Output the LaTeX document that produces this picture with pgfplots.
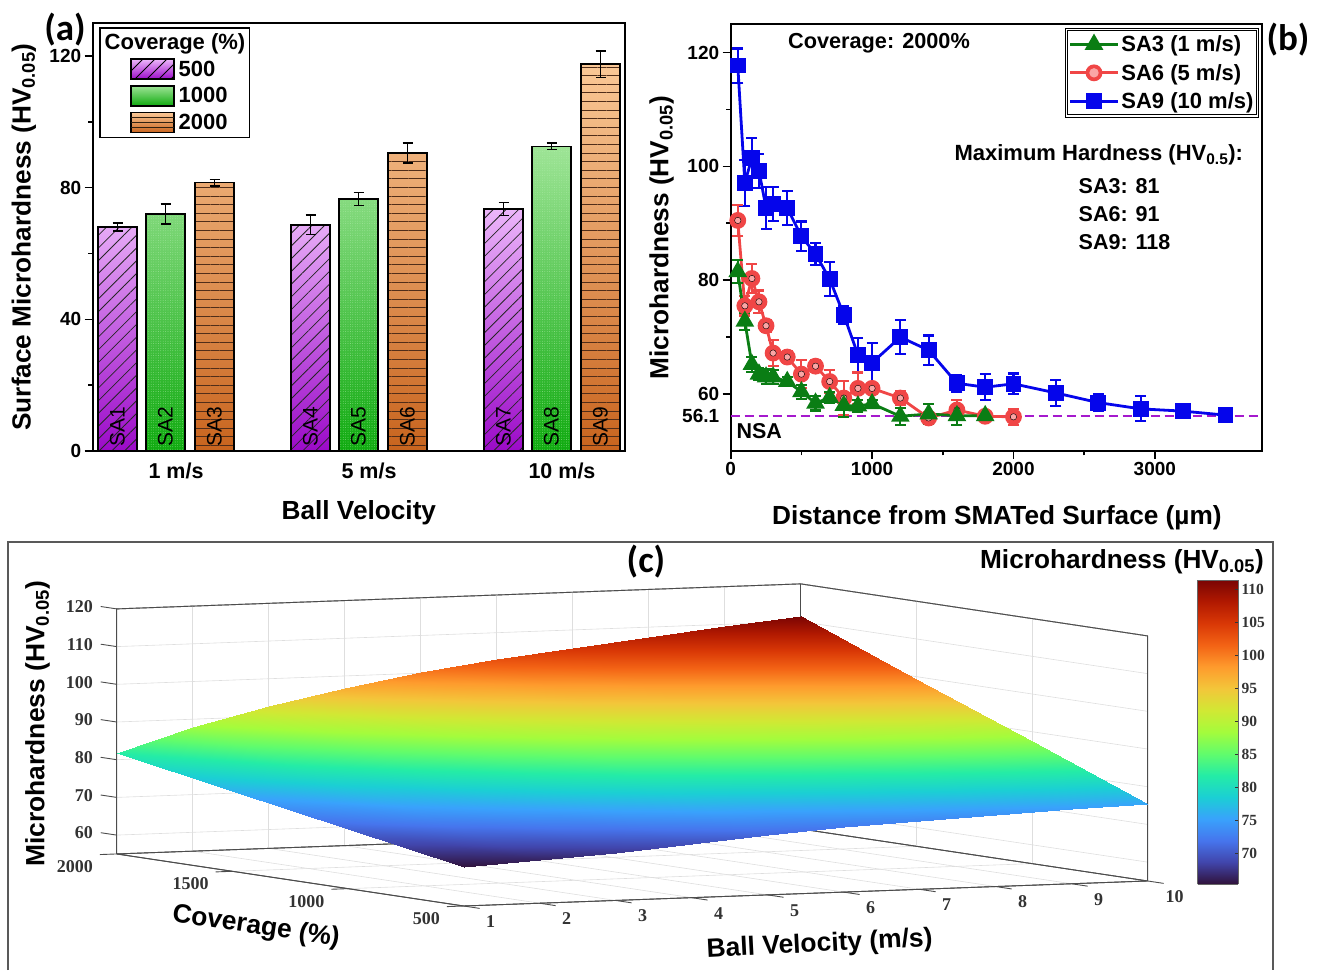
\documentclass[border=0pt]{standalone}
\usepackage{fontspec}
\setmainfont{Liberation Sans}
\newfontfamily\serf{Liberation Serif}
\newfontfamily\calfont{Carlito}
\usepackage{pgfplots}
\usepackage{pgfplotstable}
\pgfplotsset{compat=1.18}
\usetikzlibrary{patterns.meta}
\newcommand\fsz[1]{\fontsize{#1}{#1}\selectfont}
\newcommand\HV[1]{HV\textsubscript{#1}}
\definecolor{cblue}{RGB}{5,5,235}
\definecolor{cred}{RGB}{240,70,70}
\definecolor{cgreen}{RGB}{10,125,20}
\definecolor{cpurple}{RGB}{165,25,205}
\definecolor{cpink}{RGB}{250,165,165}
\pgfplotsset{
  barbase/.style={ybar, bar width=39pt, bar shift=0pt, draw=black, line width=1.6pt,
    legend image code/.code={\draw[##1] (0pt,-10pt) rectangle (43pt,10pt); \path (-28pt,0pt);}},
  barpat/.style={ybar, bar width=39pt, bar shift=0pt, draw=black, line width=1.6pt, forget plot, #1},
  errbase/.style={draw=none, no markers, forget plot, error bars/y dir=both, error bars/y explicit,
    error bars/error bar style={black,line width=1.4pt},
    error bars/error mark options={rotate=90,mark size=5pt,line width=1.4pt,black}},
  serst/.style={line width=2.8pt, color=#1, error bars/y dir=both, error bars/y explicit,
    error bars/error bar style={#1,line width=2.2pt},
    error bars/error mark options={rotate=90,mark size=5.5pt,line width=2.2pt,#1}},
  boxl/.style={black!70,line width=0.9pt,forget plot,no markers},
  lineleg/.style={legend image code/.code={\draw[mark repeat=2,mark phase=2,##1] plot coordinates {(-3pt,0pt)(21pt,0pt)(45pt,0pt)};}},
  redleg/.style={legend image code/.code={\draw[mark repeat=2,mark phase=2,##1] plot coordinates {(-3pt,0pt)(21pt,0pt)(45pt,0pt)};
    \fill[cpink] (21pt,0pt) circle (3.2pt);}},
  colormap={turbo}{rgb255=(48,18,59) rgb255=(65,69,171) rgb255=(70,117,237) rgb255=(57,162,252)
    rgb255=(27,207,212) rgb255=(36,236,166) rgb255=(97,252,108) rgb255=(164,252,60)
    rgb255=(209,232,52) rgb255=(243,198,58) rgb255=(254,155,45) rgb255=(243,99,21)
    rgb255=(217,56,6) rgb255=(177,25,1) rgb255=(122,4,3)},
}
\pgfplotstableread{
50 90.5 2.7
100 75.5 1.7
150 80.3 2.5
200 76.2 2
250 72 1
300 67.2 2.3
400 66.5 1
500 63.5 2.5
600 64.9 1
700 62.2 2
800 59.3 3
900 61 2.8
1000 61 1
1200 59.3 1.2
1400 55.8 1
1600 57.2 1.7
1800 56.1 0.8
2000 56 1.4
}\redtab
\begin{document}
\begin{tikzpicture}
\useasboundingbox (0pt,0pt) rectangle (1318pt,970pt);
\draw[black!65,line width=1.2pt] (8pt,0pt) -- (8pt,428pt) -- (1273pt,428pt) -- (1273pt,0pt);

% ---------- (a)
\begin{axis}[name=pa, at={(92.7pt,519pt)}, anchor=south west, scale only axis, width=532.3pt, height=428pt,
  xmin=0.5684, xmax=3.3264, ymin=0, ymax=130, clip=false,
  axis line style={line width=2.4pt}, tick align=outside, ytick pos=left,
  xtick={1,2,3}, xticklabels={1 m/s,5 m/s,10 m/s}, xtick style={draw=none},
  ytick={0,40,80,120}, minor y tick num=1,
  major tick length=8pt, minor tick length=4.5pt, every tick/.style={black,line width=1.6pt},
  tick label style={font=\bfseries\fsz{19}}, xticklabel style={font=\bfseries\fsz{21.5}},
  /pgf/number format/assume math mode=true,
  xlabel={\bfseries Ball Velocity}, ylabel={\bfseries Surface Microhardness (\HV{0.05})},
  label style={font=\fsz{26.2}},
  xlabel style={at={(axis description cs:0.5,-0.145)},anchor=center},
  ylabel style={at={(axis description cs:-0.1295,0.5)},anchor=center},
  legend cell align=left,
  legend style={at={(0.0125,0.99)},anchor=north west,draw=black,line width=1.5pt,
    font=\bfseries\fsz{22},inner xsep=2pt,inner ysep=4pt,row sep=5pt},
]
\addlegendimage{empty legend}
\addlegendentry{\hspace{-72pt}Coverage (\%)}
\addplot[barbase,
  top color={rgb,255:red,236;green,182;blue,250}, bottom color={rgb,255:red,155;green,10;blue,200}]
  coordinates {(0.6969,68)(1.6969,68.7)(2.6969,73.5)};
\addlegendentry{\hspace{2pt}500}
\addplot[barpat={pattern={Lines[angle=45,distance=9pt,line width=0.8pt]},pattern color=black!85}]
  coordinates {(0.6969,68)(1.6969,68.7)(2.6969,73.5)};
\addplot[barbase,
  top color={rgb,255:red,158;green,228;blue,150}, bottom color={rgb,255:red,15;green,170;blue,15}]
  coordinates {(0.9456,72)(1.9456,76.5)(2.9456,92.5)};
\addlegendentry{\hspace{2pt}1000}
\addplot[barpat={pattern={Dots[distance=2.4pt,radius=0.35pt]},pattern color={rgb,255:red,175;green,238;blue,170}}]
  coordinates {(0.9456,72)(1.9456,76.5)(2.9456,92.5)};
\addplot[barbase,
  top color={rgb,255:red,250;green,200;blue,150}, bottom color={rgb,255:red,200;green,100;blue,30}]
  coordinates {(1.1995,81.5)(2.1995,90.5)(3.1995,117.5)};
\addlegendentry{\hspace{2pt}2000\rule[-7pt]{0pt}{8pt}}
\addplot[barpat={pattern={Lines[angle=0,distance=8.6pt,line width=0.8pt]},pattern color={rgb,255:red,80;green,45;blue,25}}]
  coordinates {(1.1995,81.5)(2.1995,90.5)(3.1995,117.5)};
\addplot[errbase] coordinates {(0.6969,68)+-(0,1.2) (1.6969,68.7)+-(0,3) (2.6969,73.5)+-(0,2)
  (0.9456,72)+-(0,3) (1.9456,76.5)+-(0,2) (2.9456,92.5)+-(0,1)
  (1.1995,81.5)+-(0,1) (2.1995,90.5)+-(0,3) (3.1995,117.5)+-(0,4)};
\foreach \p/\n in {0.6969/SA1,0.9456/SA2,1.1995/SA3,1.6969/SA4,1.9456/SA5,2.1995/SA6,2.6969/SA7,2.9456/SA8,3.1995/SA9}{
  \edef\tmp{\noexpand\node[rotate=90,anchor=west,font=\noexpand\fsz{21},inner sep=0pt] at (axis cs:\p,1.2) {\n};}\tmp
}
\end{axis}
% hatching of the legend swatches
\begin{scope}
  \clip (131pt,891pt) rectangle (174pt,911pt);
  \foreach \i in {111,123,135,147,159,171}{\draw[black,line width=0.8pt] (\i pt,891pt) -- ++(20pt,20pt);}
\end{scope}
\foreach \i in {843,848,853}{\draw[black!75!brown,line width=0.8pt] (131pt,\i pt) -- (174pt,\i pt);}

% ---------- (b)
\begin{axis}[name=pb, at={(730.7pt,519pt)}, anchor=south west, scale only axis, width=531.3pt, height=427pt,
  xmin=0, xmax=3758, ymin=50, ymax=125, clip=false,
  axis line style={line width=2.4pt}, tick align=outside, ytick pos=left, xtick pos=bottom,
  xtick={0,1000,2000,3000}, ytick={60,80,100,120}, minor tick num=1,
  extra y ticks={56.1}, extra y tick labels={56.1}, extra y tick style={tick style={draw=none}},
  major tick length=8pt, minor tick length=4.5pt, every tick/.style={black,line width=1.6pt},
  tick label style={font=\bfseries\fsz{19}},
  /pgf/number format/assume math mode=true, /pgf/number format/1000 sep={},
  xlabel={\bfseries Distance from SMATed Surface (µm)}, ylabel={\bfseries Microhardness (\HV{0.05})},
  label style={font=\fsz{26.2}},
  xlabel style={at={(axis description cs:0.501,-0.157)},anchor=center},
  ylabel style={at={(axis description cs:-0.13,0.5)},anchor=center},
  reverse legend, legend cell align=left,
  legend style={at={(0.9925,0.988)},anchor=north east,draw=black,line width=1.1pt,double,double distance=1.3pt,
    font=\bfseries\fsz{22},inner xsep=2pt,inner ysep=4pt,row sep=7pt},
  lineleg,
]
\addplot[color=cpurple,line width=2.4pt,dash pattern=on 9pt off 5pt,forget plot] coordinates {(0,56.1)(3758,56.1)};
\addplot[serst=cblue, mark=square*, mark size=6.5pt, mark options={solid,fill=cblue}]
  table[x index=0,y index=1,y error index=2] {
50 117.7 3
100 97.1 4
150 101.5 3.5
200 99.2 3
250 92.7 3.7
300 93.4 3
400 92.7 3
500 87.7 2.6
600 84.6 2
700 80.2 3
800 73.9 1.5
900 66.9 3
1000 65.5 3.5
1200 70 3
1400 67.7 2.6
1600 61.9 1.5
1800 61.2 2.3
2000 61.8 1.8
2300 60.2 2.3
2600 58.5 1.5
2900 57.4 2.2
3200 57 1.2
3500 56.3 1.2
};
\addlegendentry{SA9 (10 m/s)}
\addplot[serst=cred, mark=*, mark size=7pt, mark options={solid,draw=cred,fill=cred}, redleg]
  table[x index=0,y index=1,y error index=2] {\redtab};
\addlegendentry{SA6 (5 m/s)}
\addplot[only marks, mark=*, mark size=3.2pt, mark options={draw=none,fill=cpink}, forget plot]
  table[x index=0,y index=1] {\redtab};
\addplot[serst=cgreen, mark=triangle*, mark size=8pt, mark options={solid,fill=cgreen}]
  table[x index=0,y index=1,y error index=2] {
50 81.5 2
100 72.8 1.5
150 65.2 1.3
200 63.5 1
250 63 1.3
300 63 1.2
400 62.2 0.8
500 60.4 1.2
600 58.4 1.3
700 59.4 1
800 58 2
900 57.9 1
1000 58.3 0.7
1200 56.1 1.5
1400 56.5 1.7
1600 56.2 1.7
1800 56.2 0.7
};
\addlegendentry{SA3 (1 m/s)}
\node[font=\bfseries\fsz{21.7}] at (axis cs:1049,121.7) {Coverage: 2000\%};
\node[font=\bfseries\fsz{22},anchor=west,inner sep=0pt] at (axis cs:1582,102) {Maximum Hardness (\HV{0.5}):};
\node[font=\bfseries\fsz{21.5},anchor=west,inner sep=0pt] at (axis cs:2460,96.45) {SA3: 81};
\node[font=\bfseries\fsz{21.5},anchor=west,inner sep=0pt] at (axis cs:2460,91.55) {SA6: 91};
\node[font=\bfseries\fsz{21.5},anchor=west,inner sep=0pt] at (axis cs:2460,86.65) {SA9: 118};
\node[font=\bfseries\fsz{21.5},anchor=west,inner sep=0pt] at (axis cs:40,53.5) {NSA};
\end{axis}

% ---------- (c)
\begin{axis}[name=pc, at={(116.7pt,64pt)}, anchor=south west,
  x={(76pt,2.78pt)}, y={(-0.2313pt,0.0347pt)}, z={(0pt,3.77pt)},
  xmin=1, xmax=10, ymin=500, ymax=2000, zmin=55, zmax=120, clip=false,
  xtick={1,2,...,10}, ytick={500,1000,1500,2000}, ztick={60,70,...,120},
  grid=major, grid style={black!13,line width=0.6pt},
  axis line style={black!70,line width=0.9pt}, tick align=outside,
  major tick length=0pt,
  tick label style={font=\serf\bfseries\fsz{18},text=black!80},
  xticklabel style={anchor=center,inner sep=0pt,xshift=27pt,yshift=-15.5pt},
  yticklabel style={anchor=east,inner sep=0pt,xshift=-23.5pt,yshift=-12.5pt},
  zticklabel style={anchor=east,inner sep=0pt,xshift=-23.5pt,yshift=2pt},
  /pgf/number format/assume math mode=true, /pgf/number format/1000 sep={},
  colormap name=turbo, point meta min=65.3, point meta max=111.4,
  xlabel={\bfseries Ball Velocity (m/s)}, ylabel={\bfseries Coverage (\%)}, zlabel={\bfseries Microhardness (\HV{0.05})},
  label style={font=\fsz{26.4}},
  xlabel style={at={(axis cs:2.02,-704,55)},anchor=center,rotate=3},
  ylabel style={at={(axis cs:-2.675,190,55)},anchor=center,rotate=-8.5},
  zlabel style={at={(axis cs:-0.04,2000,90.3)},anchor=center},
]
% box edges
\addplot3[boxl] coordinates {(1,2000,55)(1,2000,120)(10,2000,120)(10,500,120)(10,500,55)};
\addplot3[boxl] coordinates {(1,2000,55)(10,2000,55)(10,500,55)(1,500,55)(1,2000,55)};
\addplot3[boxl] coordinates {(10,2000,55)(10,2000,120)};
% tick marks
\pgfplotsinvokeforeach{1,2,3,4,5,6,7,8,9,10}{\addplot3[boxl] coordinates {(#1,500,55)(#1,431,55)};}
\pgfplotsinvokeforeach{500,1000,1500,2000}{\addplot3[boxl] coordinates {(1,#1,55)(0.78,#1,55)};}
\pgfplotsinvokeforeach{60,70,80,90,100,110,120}{\addplot3[boxl] coordinates {(1,2000,#1)(1,2069,#1)};}
\addplot3[surf, shader=interp, mesh/rows=4, mesh/cols=10, forget plot] table {
1 500 65.3
2 500 66.4
3 500 67.7
4 500 69.3
5 500 71
6 500 72.2
7 500 73.2
8 500 74
9 500 74.8
10 500 75.4

1 1000 70.8
2 1000 73.6
3 1000 76
4 1000 78.5
5 1000 80.7
6 1000 82.5
7 1000 83.9
8 1000 85.1
9 1000 86.4
10 1000 87.4

1 1500 76.3
2 1500 80.8
3 1500 84.4
4 1500 87.6
5 1500 90.5
6 1500 92.7
7 1500 94.6
8 1500 96.3
9 1500 98
10 1500 99.5

1 2000 81.8
2 2000 88
3 2000 92.7
4 2000 96.8
5 2000 100.2
6 2000 103
7 2000 105.3
8 2000 107.4
9 2000 109.5
10 2000 111.5
};
\end{axis}

% colour bar
\begin{axis}[name=pd, at={(1197.7pt,86pt)}, anchor=south west, scale only axis, width=40.3pt, height=304pt,
  view={0}{90}, xmin=0, xmax=1, ymin=65.3, ymax=111.4, xtick=\empty, ytick={70,75,...,110},
  ytick pos=right, yticklabel pos=right, tick align=inside,
  major tick length=3pt, every tick/.style={black!80,line width=0.8pt},
  axis line style={black!60,line width=0.8pt},
  tick label style={font=\serf\bfseries\fsz{15.5},text=black!80},
  /pgf/number format/assume math mode=true,
  colormap name=turbo, point meta min=65.3, point meta max=111.4,
]
\addplot3[surf, shader=interp, mesh/rows=2, mesh/cols=2, point meta=y] table {
0 65.3 0
1 65.3 0

0 111.4 0
1 111.4 0
};
\end{axis}

\node[font=\calfont\bfseries\fsz{37}] at (65pt,940pt) {(a)};
\node[font=\calfont\bfseries\fsz{37}] at (1288pt,930pt) {(b)};
\node[font=\calfont\bfseries\fsz{37}] at (646pt,408pt) {(c)};
\node[font=\bfseries\fsz{26.2}] at (1122pt,408.5pt) {Microhardness (\HV{0.05})};
\end{tikzpicture}
\end{document}
